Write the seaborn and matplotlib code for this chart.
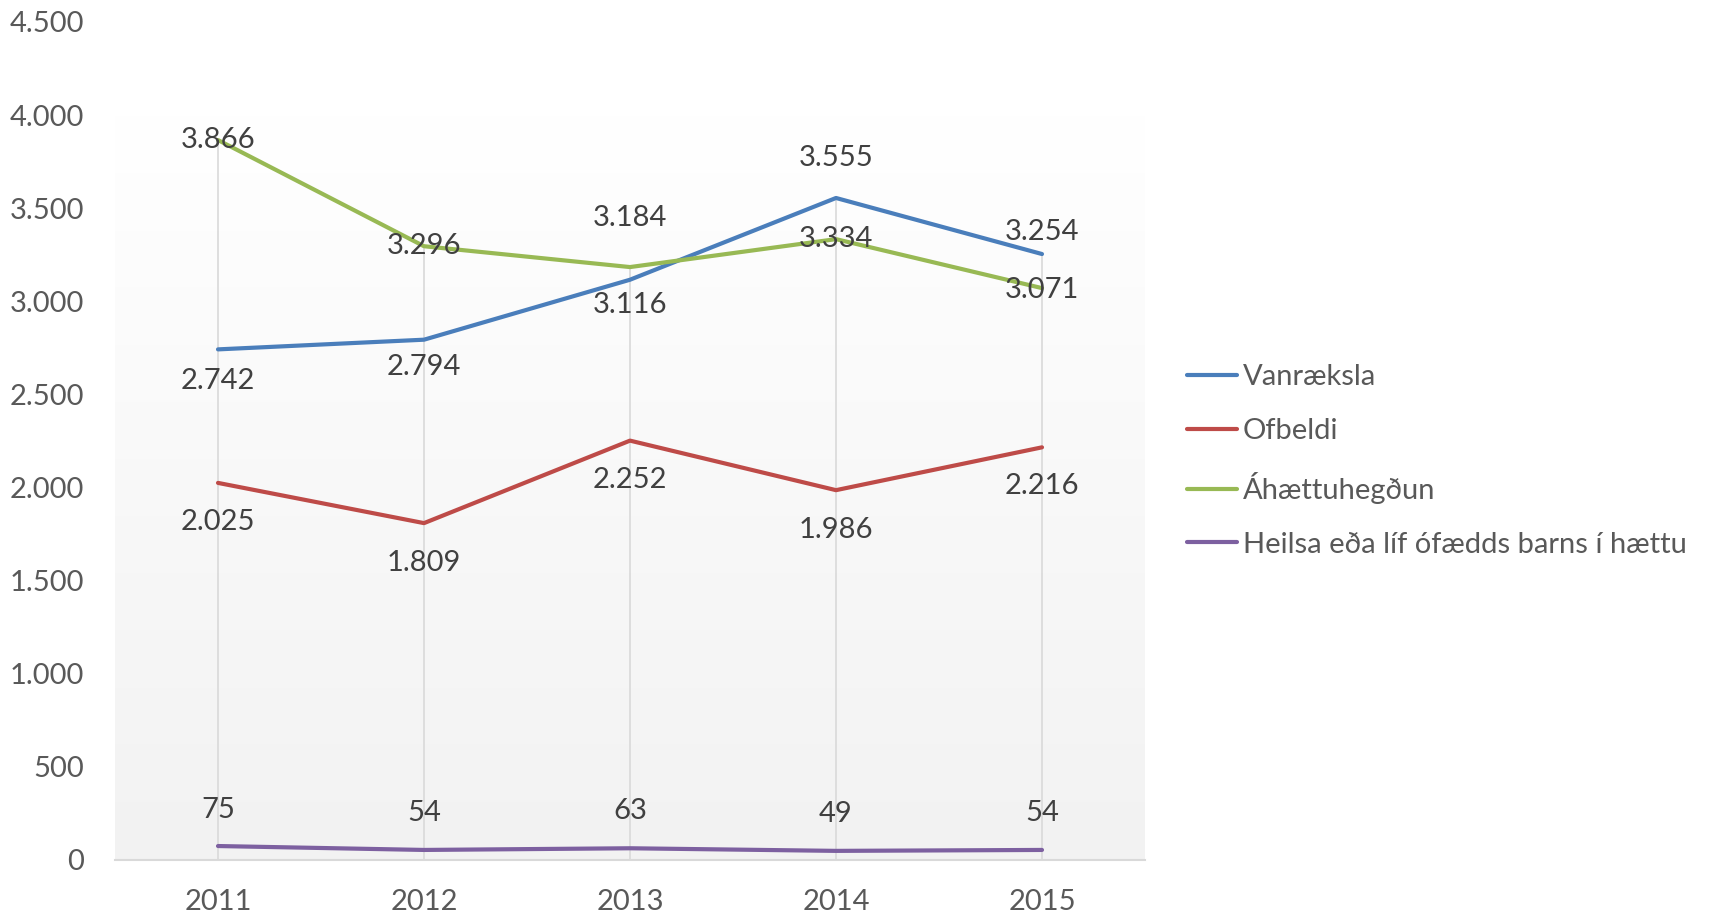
import numpy as np
import pandas as pd
import matplotlib
matplotlib.use("Agg")
import matplotlib.pyplot as plt
from matplotlib.colors import LinearSegmentedColormap
import seaborn as sns

years = ["2011", "2012", "2013", "2014", "2015"]
vanraeksla = [2742, 2794, 3116, 3555, 3254]
ofbeldi = [2025, 1809, 2252, 1986, 2216]
ahaettuhegdun = [3866, 3296, 3184, 3334, 3071]
heilsa = [75, 54, 63, 49, 54]
series_names = ["Vanræksla", "Ofbeldi", "Áhættuhegðun", "Heilsa eða líf ófædds barns í hættu"]
y_ticks = [0, 500, 1000, 1500, 2000, 2500, 3000, 3500, 4000, 4500]

colors = ["#4a7ebb", "#be4b48", "#98b954", "#7d60a0"]
# label offsets in pixels (positive = below point)
label_offsets = {
    "Vanræksla": [32, 27, 25, -40, -22],
    "Ofbeldi": [39, 40, 39, 40, 39],
    "Áhættuhegðun": [0, 0, -49, 0, 2],
    "Heilsa eða líf ófædds barns í hættu": [-36, -37, -37, -37, -37],
}

series_values = [vanraeksla, ofbeldi, ahaettuhegdun, heilsa]
df = pd.DataFrame({
    "year": years * 4,
    "value": sum(series_values, []),
    "series": sum([[n] * len(years) for n in series_names], []),
})

sns.set_style("white")
plt.rcParams["font.family"] = ["Lato", "DejaVu Sans"]
FS = 21

W, H = 1713, 917
fig = plt.figure(figsize=(W / 100, H / 100), dpi=100)
ax = fig.add_axes([115 / W, 57 / H, 1030 / W, (860 - 22) / H])

sns.lineplot(data=df, x="year", y="value", hue="series", palette=colors,
             linewidth=3.0, ax=ax, sort=False, zorder=3, legend=True)

ax.set_xlim(-0.5, len(years) - 0.5)
ax.set_ylim(0, 4500)

# gradient plot area
cmap = LinearSegmentedColormap.from_list("g", ["#f2f2f2", "#ffffff"])
grad = np.linspace(0, 1, 256).reshape(-1, 1)
ax.imshow(grad, extent=(-0.5, len(years) - 0.5, 0, 4000), aspect="auto",
          cmap=cmap, origin="lower", zorder=0)

# drop lines
maxima = [max(v) for v in zip(*series_values)]
ax.vlines(range(len(years)), 0, maxima, colors="#d9d9d9", linewidth=1.2, zorder=1)

# data labels
for name, vals in zip(series_names, series_values):
    for i, v in enumerate(vals):
        ax.annotate(f"{v:,}".replace(",", "."), (i, v), xytext=(0, -label_offsets[name][i] * 0.72),
                    textcoords="offset points", ha="center", va="center",
                    fontsize=FS, color="#404040", zorder=4)

ax.set_yticks(y_ticks)
ax.set_yticklabels([f"{t:,}".replace(",", ".") for t in y_ticks])
ax.tick_params(axis="y", length=0, pad=22, labelsize=FS, labelcolor="#595959")
ax.tick_params(axis="x", length=0, pad=21, labelsize=FS, labelcolor="#595959")
ax.set_xlabel("")
ax.set_ylabel("")
for s in ["top", "right", "left"]:
    ax.spines[s].set_visible(False)
ax.spines["bottom"].set_color("#d9d9d9")
ax.spines["bottom"].set_linewidth(1.5)
ax.grid(False)

handles, labels = ax.get_legend_handles_labels()
ax.legend(handles, labels, loc="center left",
          bbox_to_anchor=(1187 / W, 1 - 461 / H), bbox_transform=fig.transFigure,
          frameon=False, fontsize=FS, handlelength=1.7, handletextpad=0.22,
          labelspacing=0.95, borderpad=0, borderaxespad=0, labelcolor="#595959")

fig.savefig("out.png", dpi=100, facecolor="white")
